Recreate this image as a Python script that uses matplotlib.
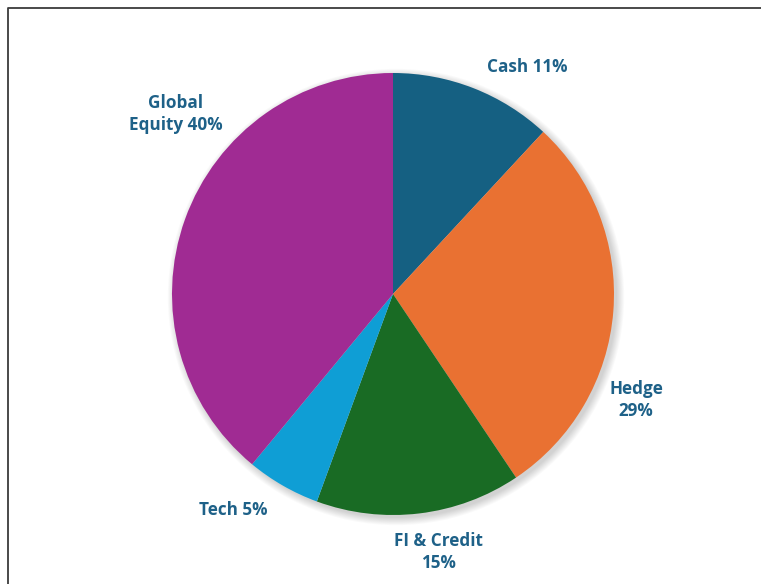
import matplotlib.pyplot as plt
from matplotlib.patches import Circle
from matplotlib.lines import Line2D

# Portfolio allocation data (wedge sizes)
categories = ['Cash', 'Hedge', 'FI & Credit', 'Tech', 'Global Equity']
shares = [11.9, 28.7, 15.0, 5.4, 39.0]
colors = ['#156082', '#E97132', '#196B24', '#0F9ED5', '#A02B93']
label_text = ['Cash 11%', 'Hedge\n29%', 'FI & Credit\n15%', 'Tech 5%', 'Global\nEquity 40%']

# label centres in pixel coords (x from left, y from top)
label_pos = [(527, 67), (636, 400), (438, 552), (233, 510), (176, 114)]

W, H = 761, 584
fig = plt.figure(figsize=(W / 100, H / 100), dpi=100)
ax = fig.add_axes([0, 0, 1, 1])

cx, cy, r = 393, H - 294, 221

# soft shadow, mostly towards the lower right
for i in range(9):
    ax.add_patch(Circle((cx + 3, cy - 3), r + i * 0.9, color='#000000',
                        alpha=0.018, lw=0, zorder=0))

ax.pie(shares, colors=colors, startangle=90, counterclock=False,
       center=(cx, cy), radius=r, frame=True,
       wedgeprops=dict(edgecolor='none', linewidth=0))
ax.set_xlim(0, W)
ax.set_ylim(0, H)
ax.set_aspect('equal')
ax.axis('off')

for txt, (x, y) in zip(label_text, label_pos):
    ax.text(x, H - y, txt, ha='center', va='center', fontsize=12.3,
            fontweight='bold', family='Open Sans', color='#1E6188',
            linespacing=1.35)

# frame (left and top edges visible, rest cropped)
fig.add_artist(Line2D([8 / W, 8 / W, 1], [0, 1 - 8 / H, 1 - 8 / H],
                      transform=fig.transFigure, color='#3c3c3c', lw=1.3))

fig.savefig('out.png', dpi=100)
